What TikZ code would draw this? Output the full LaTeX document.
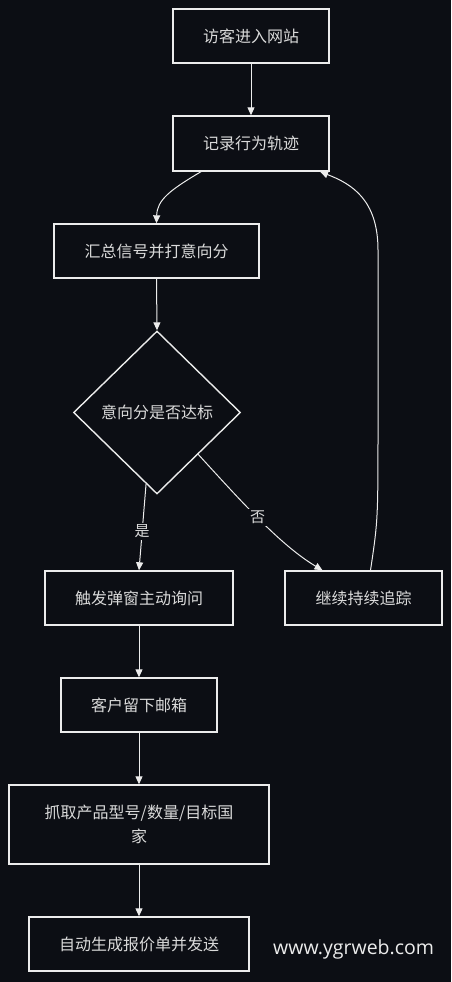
\documentclass[tikz,border=0pt]{standalone}
\usepackage{fontspec}
\newfontfamily\cjk{Noto Sans CJK SC}
\newfontfamily\wm{Open Sans}
\usetikzlibrary{shapes.geometric,arrows.meta,calc}
\definecolor{bg}{RGB}{12,14,20}
\definecolor{ln}{RGB}{236,236,236}
\definecolor{tx}{RGB}{218,218,218}
\begin{document}
\begin{tikzpicture}[x=1pt,y=-1pt,
  box/.style={draw=ln,line width=1.4pt,fill=bg,text=tx,inner sep=0pt,
    font=\cjk\fontsize{16}{24}\selectfont,align=center},
  dia/.style={draw=ln,line width=1.4pt,fill=bg,text=tx,diamond,inner sep=0pt,
    minimum width=167pt,minimum height=163pt,font=\cjk\fontsize{16}{24}\selectfont},
  arr/.style={draw=ln,line width=1pt,-{Triangle[length=8pt,width=7pt]}},
  lab/.style={fill=bg,text=tx,inner sep=2pt,font=\cjk\fontsize{15}{18}\selectfont}]
\fill[bg] (0,0) rectangle (451,982);
\useasboundingbox (0,0) rectangle (451,982);

\node[box,minimum width=156pt,minimum height=54pt] (n1) at (251,36) {访客进入网站};
\node[box,minimum width=156pt,minimum height=55pt] (n2) at (251,143.5) {记录行为轨迹};
\node[box,minimum width=205pt,minimum height=54pt] (n3) at (156.5,251) {汇总信号并打意向分};
\node[dia] (n4) at (157,412.5) {意向分是否达标};
\node[box,minimum width=188pt,minimum height=54pt] (n5) at (139,598) {触发弹窗主动询问};
\node[box,minimum width=157pt,minimum height=54pt] (n6) at (363.5,598) {继续持续追踪};
\node[box,minimum width=156pt,minimum height=54pt] (n7) at (139,705) {客户留下邮箱};
\node[box,minimum width=260pt,minimum height=79pt] (n8) at (139,824.5) {抓取产品型号/数量/目标国\\家};
\node[box,minimum width=220pt,minimum height=54pt] (n9) at (139,944) {自动生成报价单并发送};
\node[text=ln,font=\wm\fontsize{19.5}{22}\selectfont,inner sep=0pt,anchor=west] (wm) at (273,949) {www.ygrweb.com};

\draw[arr] (n1.south) -- (n2.north);
\draw[arr] ([xshift=-50pt]n2.south) .. controls (170,190) and (157,200) .. (n3.north);
\draw[arr] (n3.south) -- (n4.north);
\coordinate (y0) at ($(n4.south)!0.13!(n4.west)$);
\coordinate (no0) at ($(n4.south)!0.49!(n4.east)$);
\draw[arr] (y0) -- node[lab,pos=0.55] (ly) {是} (n5.north);
\draw[arr] (no0) .. controls (240,500) and (280,545) .. node[lab,pos=0.48] (ln) {否} ([xshift=-41pt]n6.north);
\draw[arr] ([xshift=7pt]n6.north) .. controls (378,520) .. (378,420) -- (378,250)
  .. controls (378,200) and (352,184) .. ([xshift=69pt]n2.south);
\draw[arr] (n5.south) -- (n7.north);
\draw[arr] (n7.south) -- (n8.north);
\draw[arr] (n8.south) -- (n9.north);
\end{tikzpicture}
\end{document}
